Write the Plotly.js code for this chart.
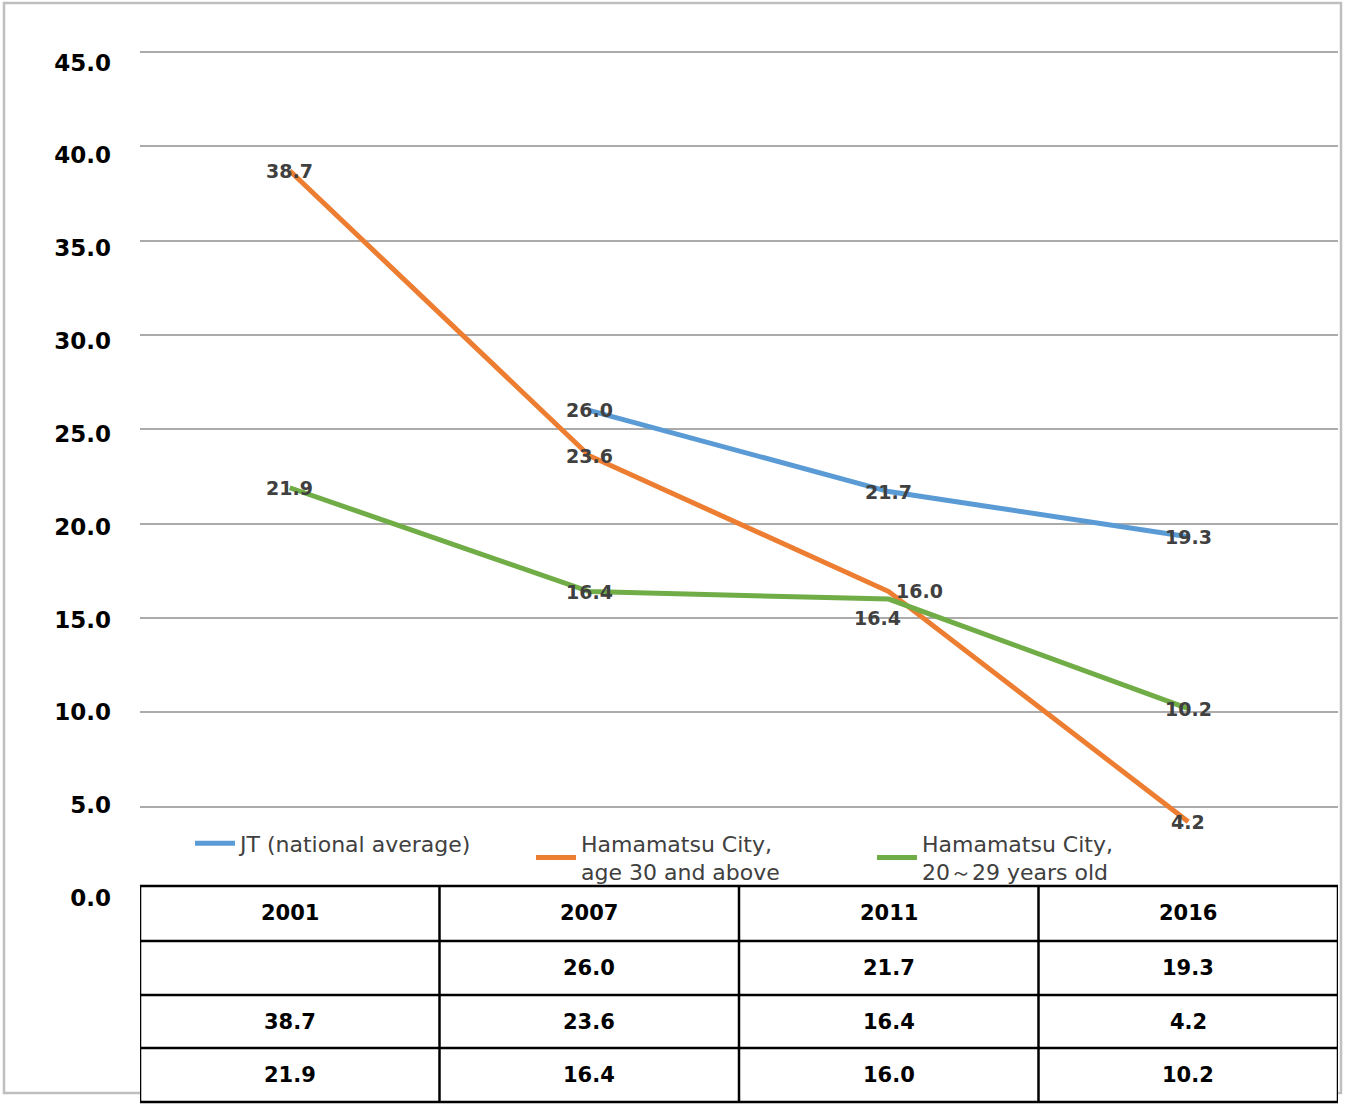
<!DOCTYPE html>
<html><head><meta charset="utf-8">
<script src="https://cdn.plot.ly/plotly-3.0.1.min.js"></script>
<style>html,body{margin:0;padding:0;background:#fff;}</style>
</head><body>
<div id="chart" style="width:1346px;height:1106px;"></div>
<script>
// ---- data ----
const years = ['2001', '2007', '2011', '2016'];
const seriesNames = ['JT (national average)', 'Hamamatsu City,<br>age 30 and above', 'Hamamatsu City,<br>20～29 years old'];
const jtNational = [null, 26.0, 21.7, 19.3];
const hamamatsu30Plus = [38.7, 23.6, 16.4, 4.2];
const hamamatsu20s = [21.9, 16.4, 16.0, 10.2];
const yTickValues = [0, 5, 10, 15, 20, 25, 30, 35, 40, 45];

// ---- styling ----
const colors = ['#5B9BD5', '#ED7D31', '#70AD47'];
const series = [jtNational, hamamatsu30Plus, hamamatsu20s];
const W = 1346, H = 1106;
const M = {l: 140, r: 8, t: 50, b: 205};
const plotW = W - M.l - M.r, plotH = H - M.t - M.b;
const px2x = p => (p - M.l) / plotW;
const py2y = p => (H - M.b - p) / plotH;
const FONT = 'DejaVu Sans, Liberation Sans, Arial, sans-serif';

const labelShift = {'1-2': [-11, -26], '2-2': [31, 8]};

const traces = series.map((vals, s) => ({
  type: 'scatter', mode: 'lines', name: seriesNames[s],
  x: years, y: vals, connectgaps: false,
  line: {color: colors[s], width: 5},
  hoverinfo: 'skip'
}));
// helper (draws nothing) so the tick-label axis is rendered
traces.push({type: 'scatter', mode: 'none', x: years, y: hamamatsu20s, yaxis: 'y2', showlegend: false, hoverinfo: 'skip'});

const annotations = [];
series.forEach((vals, s) => {
  vals.forEach((v, i) => {
    if (v === null) return;
    const sh = labelShift[s + '-' + i] || [0, 0];
    annotations.push({
      x: i, y: v, xref: 'x', yref: 'y', text: v.toFixed(1), showarrow: false,
      xanchor: 'center', yanchor: 'middle', xshift: sh[0], yshift: sh[1],
      font: {family: FONT, size: 19, color: '#404040', weight: 'bold'}
    });
  });
});

const rowEdges = [886, 941, 995, 1048, 1102];
const shapes = [];
shapes.push({type: 'rect', xref: 'paper', yref: 'paper', x0: px2x(4), x1: px2x(1341), y0: py2y(1093), y1: py2y(3),
  line: {color: '#BFBFBF', width: 2.5}, fillcolor: 'rgba(0,0,0,0)', layer: 'below'});
shapes.push({type: 'rect', xref: 'x', yref: 'paper', x0: -0.5, x1: years.length - 0.5, y0: py2y(rowEdges[rowEdges.length - 1]), y1: py2y(rowEdges[0]),
  line: {width: 0}, fillcolor: '#ffffff', layer: 'above'});
rowEdges.forEach(r => shapes.push({type: 'line', xref: 'x', yref: 'paper', x0: -0.5, x1: years.length - 0.5, y0: py2y(r), y1: py2y(r),
  line: {color: '#000', width: 2.5}, layer: 'above'}));
for (let c = 0; c <= years.length; c++) {
  shapes.push({type: 'line', xref: 'x', yref: 'paper', x0: c - 0.5, x1: c - 0.5, y0: py2y(rowEdges[0]), y1: py2y(rowEdges[rowEdges.length - 1]),
    line: {color: '#000', width: 2.5}, layer: 'above'});
}
const tableRows = [years].concat(series.map(vals => vals.map(v => v === null ? '' : v.toFixed(1))));
tableRows.forEach((row, r) => {
  const yc = (rowEdges[r] + rowEdges[r + 1]) / 2;
  row.forEach((txt, i) => {
    if (txt === '') return;
    annotations.push({x: i, xref: 'x', y: py2y(yc), yref: 'paper', text: '<b>' + txt + '</b>', showarrow: false,
      xanchor: 'center', yanchor: 'middle',
      font: {family: FONT, size: 21, color: '#000'}});
  });
});

// label axis: tick labels positioned as in the reference (slightly different spacing from the grid)
const labelRange = [-0.1616, 45.673];

const layout = {
  width: W, height: H, margin: M,
  paper_bgcolor: '#fff', plot_bgcolor: '#fff',
  showlegend: true,
  legend: {orientation: 'h', x: px2x(190), xanchor: 'left', y: py2y(858), yanchor: 'middle',
    itemwidth: 40, entrywidth: 286, entrywidthmode: 'pixels', bgcolor: 'rgba(0,0,0,0)', valign: 'middle',
    font: {family: FONT, size: 22, color: '#404040'}},
  xaxis: {type: 'category', range: [-0.5, years.length - 0.5], showgrid: false, showticklabels: false,
    showline: false, zeroline: false, ticks: '', fixedrange: true},
  yaxis: {range: [0, 45.1], tickvals: yTickValues, showgrid: true, gridcolor: '#ABABAB', gridwidth: 2,
    zeroline: false, showline: false, ticks: '', showticklabels: false},
  yaxis2: {overlaying: 'y', side: 'left', anchor: 'x', range: labelRange, tickvals: yTickValues, tickformat: '.1f',
    showgrid: false, zeroline: false, showline: false, ticks: '', ticklabelstandoff: 28,
    tickfont: {family: FONT, size: 23, color: '#000', weight: 'bold'}},
  shapes: shapes,
  annotations: annotations
};
Plotly.newPlot('chart', traces, layout, {displayModeBar: false});
</script>
</body></html>
